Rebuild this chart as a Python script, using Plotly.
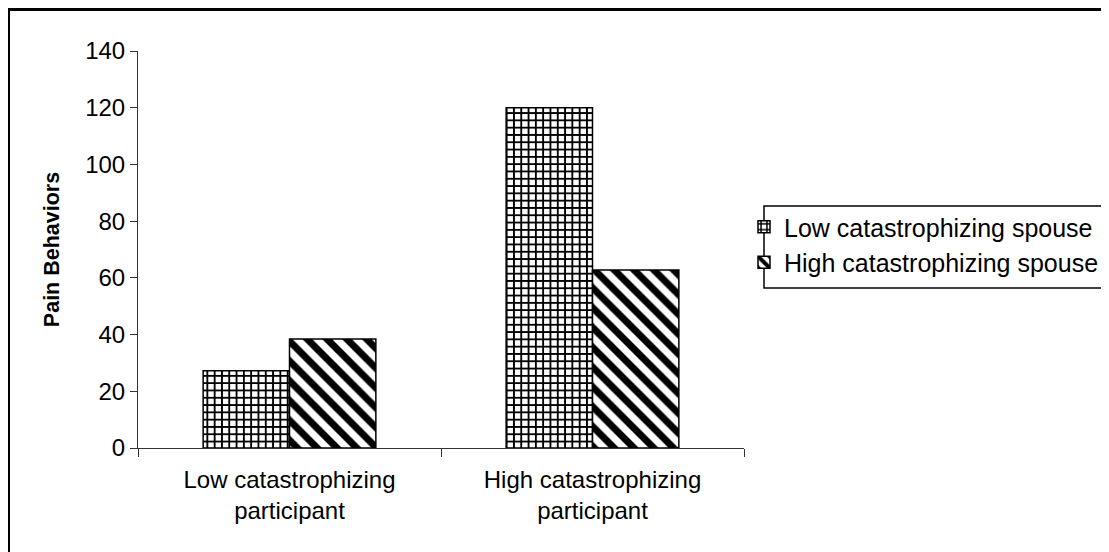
import plotly.graph_objects as go

categories = ["Low catastrophizing<br>participant", "High catastrophizing<br>participant"]
series_names = ["Low catastrophizing spouse", "High catastrophizing spouse"]
low_spouse = [27.2, 120.0]
high_spouse = [38.4, 62.8]
y_ticks = [0, 20, 40, 60, 80, 100, 120, 140]

FONT = "Liberation Sans, Arial, sans-serif"

# figure coordinates (page is offset by 8px body margin)
W, H = 1101, 544
L, R, T, B = 130, 365, 43, 104
PW = W - L - R
PH = H - T - B


def px(x):
    return (x - L) / PW


def py(y):
    return (H - B - y) / PH


fig = go.Figure()
fig.add_trace(go.Bar(
    x=categories, y=low_spouse, name=series_names[0],
    marker=dict(color="white", line=dict(color="black", width=1.5),
                pattern=dict(shape="+", fgcolor="black", bgcolor="white", fgopacity=1,
                             fillmode="replace", size=7.3, solidity=0.45)),
))
fig.add_trace(go.Bar(
    x=categories, y=high_spouse, name=series_names[1],
    marker=dict(color="white", line=dict(color="black", width=1.5),
                pattern=dict(shape="\\", fgcolor="black", bgcolor="white", fgopacity=1,
                             fillmode="replace", size=14, solidity=0.5)),
))

fig.update_layout(
    width=W, height=H,
    margin=dict(l=L, r=R, t=T, b=B, autoexpand=False),
    paper_bgcolor="white", plot_bgcolor="white",
    barmode="group", bargap=0.43, bargroupgap=0,
    font=dict(family=FONT, size=24, color="black"),
    showlegend=True,
    legend=dict(x=px(736), xanchor="left", y=py(196), yanchor="top",
                bgcolor="rgba(0,0,0,0)", borderwidth=0,
                font=dict(size=25), tracegroupgap=0),
    xaxis=dict(showline=True, linecolor="#333", linewidth=1, ticks="outside",
               tickson="boundaries", ticklen=8, tickcolor="#333", showgrid=False,
               tickfont=dict(size=24), ticklabelstandoff=10),
    yaxis=dict(range=[0, 140], tickvals=y_ticks, showline=True, linecolor="#333",
               linewidth=1, ticks="outside", ticklen=7, tickcolor="#333",
               showgrid=False, zeroline=False, tickfont=dict(size=24),
               title=dict(text="<b>Pain Behaviors</b>", font=dict(size=21.5), standoff=19)),
    shapes=[
        dict(type="rect", xref="paper", yref="paper",
             x0=px(0.5), x1=px(1110), y0=py(560), y1=py(1.5),
             line=dict(color="black", width=3), fillcolor="rgba(0,0,0,0)", layer="below"),
        dict(type="rect", xref="paper", yref="paper",
             x0=px(756), x1=px(1110), y0=py(280), y1=py(198),
             line=dict(color="black", width=1.5), fillcolor="rgba(0,0,0,0)", layer="below"),
    ],
)

fig.write_html("out.html")
